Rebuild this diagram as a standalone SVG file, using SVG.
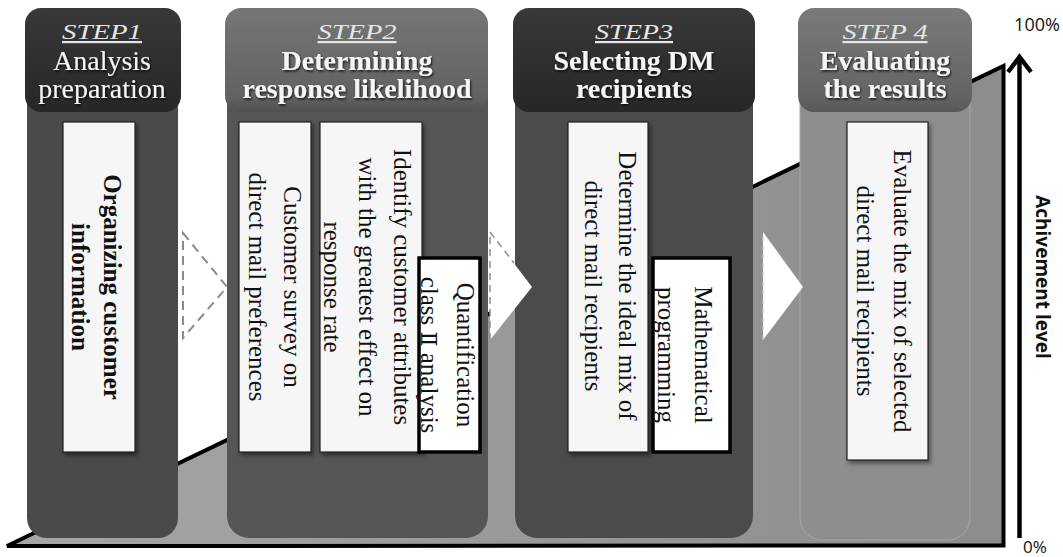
<svg xmlns="http://www.w3.org/2000/svg" width="1063" height="557" viewBox="0 0 1063 557">
<defs>
<linearGradient id="gBg" x1="0" y1="0" x2="1" y2="0">
<stop offset="0" stop-color="#a6a6a6"/><stop offset="1" stop-color="#8c8c8c"/>
</linearGradient>
<linearGradient id="gH2" x1="0" y1="0" x2="0" y2="1">
<stop offset="0" stop-color="#767676"/><stop offset="0.85" stop-color="#626262"/><stop offset="1" stop-color="#505050"/>
</linearGradient>
<linearGradient id="gH4" x1="0" y1="0" x2="0" y2="1">
<stop offset="0" stop-color="#7a7a7a"/><stop offset="0.85" stop-color="#646464"/><stop offset="1" stop-color="#585858"/>
</linearGradient>
<linearGradient id="gH1" x1="0" y1="0" x2="0" y2="1">
<stop offset="0" stop-color="#383838"/><stop offset="1" stop-color="#272727"/>
</linearGradient>
<filter id="sh" x="-20%" y="-20%" width="140%" height="140%">
<feDropShadow dx="2" dy="3" stdDeviation="2" flood-color="#000" flood-opacity="0.45"/>
</filter>
<filter id="tsh" x="-10%" y="-10%" width="120%" height="130%">
<feDropShadow dx="1" dy="1.5" stdDeviation="0.8" flood-color="#000" flood-opacity="0.8"/>
</filter>
</defs>
<style>
.body1{fill:#4a4a4a}
.body2{fill:#555555}
.body3{fill:#4b4b4b}
.body4{fill:#8e8e8e;stroke:#a8a8a8;stroke-width:1}
.step{font-family:"Liberation Serif",serif;font-style:italic;font-size:22px;fill:#e6e6e6;text-decoration:underline;text-anchor:middle}
.ht{font-family:"Liberation Serif",serif;font-size:28px;fill:#f5f5f5;text-anchor:middle}
.htb{font-family:"Liberation Serif",serif;font-size:28px;font-weight:bold;fill:#f5f5f5;text-anchor:middle}
.box{fill:#f6f6f6;stroke:#222;stroke-width:1.2}
.box2{fill:#ffffff;stroke:#000;stroke-width:3.5}
.bt{font-family:"Liberation Serif",serif;font-size:25px;fill:#111;text-anchor:middle}
.btb{font-family:"Liberation Serif",serif;font-size:25px;font-weight:bold;fill:#111;text-anchor:middle}
.ax{font-family:"Open Sans","DejaVu Sans",sans-serif;fill:#111}
</style>
<rect width="1063" height="557" fill="#ffffff"/>
<g id="background">
<polygon points="7,546 1003.5,66 1003.5,545.5" fill="url(#gBg)" stroke="#000" stroke-width="4" stroke-linejoin="miter"/>
</g>
<g id="axis">
<line x1="1019.5" y1="538" x2="1019.5" y2="60" stroke="#000" stroke-width="4.5"/>
<polyline points="1008,72 1019.5,57 1031,72" fill="none" stroke="#000" stroke-width="4.5"/>
<text class="ax" x="1037" y="31" font-size="18" text-anchor="middle">100%</text>
<text class="ax" x="1035" y="553" font-size="17" text-anchor="middle">0%</text>
<text class="ax" font-size="19" font-weight="bold" text-anchor="middle" transform="translate(1036,277) rotate(90)">Achivement level</text>
</g>
<g id="step1">
<rect class="body1" x="27" y="20" width="151" height="518" rx="20"/>
<rect x="25" y="8" width="156" height="104" rx="16" fill="url(#gH1)"/>
<text class="step" x="102" y="39" textLength="80" lengthAdjust="spacingAndGlyphs">STEP1</text>
<text class="ht" x="102" y="70" filter="url(#tsh)">Analysis</text>
<text class="ht" x="102" y="98" filter="url(#tsh)">preparation</text>
</g>
<g id="step2">
<rect class="body2" x="227" y="20" width="261" height="518" rx="22"/>
<rect x="225" y="8" width="263" height="104" rx="16" fill="url(#gH2)"/>
<text class="step" x="357" y="39" textLength="79" lengthAdjust="spacingAndGlyphs">STEP2</text>
<text class="htb" x="357" y="70" filter="url(#tsh)">Determining</text>
<text class="htb" x="357" y="98" filter="url(#tsh)">response likelihood</text>
</g>
<g id="step3">
<rect class="body3" x="515" y="20" width="238" height="518" rx="22"/>
<rect x="513" y="8" width="242" height="104" rx="16" fill="url(#gH1)"/>
<text class="step" x="634" y="39" textLength="78" lengthAdjust="spacingAndGlyphs">STEP3</text>
<text class="htb" x="634" y="70" filter="url(#tsh)">Selecting DM</text>
<text class="htb" x="634" y="98" filter="url(#tsh)">recipients</text>
</g>
<g id="step4">
<rect class="body4" x="800" y="20" width="170" height="520" rx="22"/>
<rect x="798" y="8" width="174" height="104" rx="16" fill="url(#gH4)"/>
<text class="step" x="885" y="39" textLength="85" lengthAdjust="spacingAndGlyphs">STEP 4</text>
<text class="htb" x="885" y="70" filter="url(#tsh)">Evaluating</text>
<text class="htb" x="885" y="98" filter="url(#tsh)">the results</text>
</g>
<g id="connectors">
<polygon points="183,233 227,287 183,338" fill="#ffffff" stroke="#8a8a8a" stroke-width="2" stroke-dasharray="9,6"/>
<polygon points="490,232 532,287 490,340" fill="#ffffff"/>
<polyline points="490,340 490,232 514,263" fill="none" stroke="#8f8f8f" stroke-width="1.5" stroke-dasharray="7,5"/>
<polygon points="763,232 803,287 763,340" fill="#ffffff"/>
<polyline points="763,340 763,232" fill="none" stroke="#c4c4c4" stroke-width="1.2" stroke-dasharray="5,4"/>
</g>
<g id="organizing">
<rect class="box" x="63" y="122" width="72" height="330" filter="url(#sh)"/>
<text class="btb" transform="translate(104,287) rotate(90)">Organizing customer</text>
<text class="btb" transform="translate(72,287) rotate(90)">information</text>
</g>
<g id="survey">
<rect class="box" x="239" y="122" width="72" height="330" filter="url(#sh)"/>
<text class="bt" transform="translate(284,287) rotate(90)">Customer survey on</text>
<text class="bt" transform="translate(249,287) rotate(90)">direct mail preferences</text>
</g>
<g id="identify">
<rect class="box" x="320" y="122" width="102" height="330" filter="url(#sh)"/>
<text class="bt" transform="translate(394,287) rotate(90)">Identify customer attributes</text>
<text class="bt" transform="translate(359,287) rotate(90)">with the greatest effect on</text>
<text class="bt" transform="translate(324,287) rotate(90)">response rate</text>
</g>
<g id="quantification">
<rect class="box2" x="419" y="258" width="61" height="194"/>
<text class="bt" transform="translate(457,355) rotate(90)">Quantification</text>
<text class="bt" transform="translate(421,355) rotate(90)">class <tspan font-family="'DejaVu Serif','Liberation Serif','Noto Sans CJK JP',serif" font-size="22">Ⅱ</tspan> analysis</text>
</g>
<g id="determine">
<rect class="box" x="568" y="122" width="80" height="330" filter="url(#sh)"/>
<text class="bt" transform="translate(619,286) rotate(90)">Determine the ideal mix of</text>
<text class="bt" transform="translate(585,286) rotate(90)">direct mail recipients</text>
</g>
<g id="mathematical">
<rect class="box2" x="653" y="258" width="77" height="194"/>
<text class="bt" transform="translate(695,355) rotate(90)">Mathematical</text>
<text class="bt" transform="translate(658,355) rotate(90)">programming</text>
</g>
<g id="evaluate">
<rect class="box" x="847" y="122" width="81" height="338" filter="url(#sh)"/>
<text class="bt" transform="translate(894,291) rotate(90)">Evaluate the mix of selected</text>
<text class="bt" transform="translate(857,291) rotate(90)">direct mail recipients</text>
</g>
</svg>
